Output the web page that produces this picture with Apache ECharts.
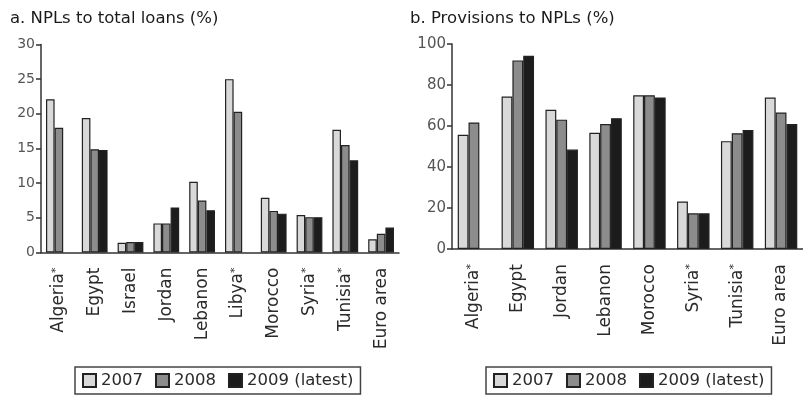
<!DOCTYPE html>
<html><head><meta charset="utf-8">
<script src="https://cdn.jsdelivr.net/npm/echarts@6/dist/echarts.min.js"></script>
<style>html,body{margin:0;padding:0;background:#fff}#c{width:803px;height:399px}</style>
</head><body><div id="c"></div>
<script>
const seriesNames = ['2007', '2008', '2009 (latest)'];
const catsA = ['Algeria*', 'Egypt', 'Israel', 'Jordan', 'Lebanon', 'Libya*', 'Morocco', 'Syria*', 'Tunisia*', 'Euro area'];
const npl2007 = [22.1, 19.4, 1.4, 4.2, 10.2, 25.0, 7.9, 5.4, 17.7, 1.9];
const npl2008 = [18.0, 14.9, 1.5, 4.2, 7.5, 20.3, 6.0, 5.1, 15.5, 2.7];
const npl2009 = [null, 14.8, 1.5, 6.5, 6.1, null, 5.6, 5.1, 13.3, 3.6];
const catsB = ['Algeria*', 'Egypt', 'Jordan', 'Lebanon', 'Morocco', 'Syria*', 'Tunisia*', 'Euro area'];
const prov2007 = [55.7, 74.4, 67.9, 56.7, 75.0, 23.2, 52.6, 73.9];
const prov2008 = [61.7, 92.0, 63.1, 61.0, 75.0, 17.4, 56.5, 66.6];
const prov2009 = [null, 94.3, 48.5, 63.8, 73.9, 17.4, 58.0, 61.0];

const colors = ['#d9d9d9', '#8c8c8c', '#1c1c1c'];
const FONT = 'DejaVu Sans';

function catLabel(v) {
  if (v.endsWith('*')) return v.slice(0, -1) + '{s|*}';
  return v;
}
function xAxis(idx, cats) {
  return {
    type: 'category', gridIndex: idx, data: cats,
    axisLine: {lineStyle: {color: '#333', width: 1.5}},
    axisTick: {length: 5, lineStyle: {color: '#333', width: 1.5}},
    axisLabel: {rotate: 90, margin: 15, fontFamily: FONT, fontSize: 17, color: '#2a2a2a',
      formatter: catLabel,
      rich: {s: {fontSize: 11, fontFamily: FONT, color: '#2a2a2a', verticalAlign: 'top'}}}
  };
}
function yAxis(idx, max, interval, fs) {
  return {
    type: 'value', gridIndex: idx, min: 0, max: max, interval: interval,
    splitLine: {show: false},
    axisLine: {show: true, lineStyle: {color: '#333', width: 1.5}},
    axisTick: {show: true, length: 5, lineStyle: {color: '#333', width: 1.5}},
    axisLabel: {fontFamily: FONT, fontSize: fs, color: '#555', margin: 6}
  };
}
function bars(name, data, idx, ci, gap) {
  return {
    type: 'bar', name: name, data: data, xAxisIndex: idx, yAxisIndex: idx,
    barGap: '0%', barCategoryGap: gap,
    itemStyle: {color: colors[ci], borderColor: '#222', borderWidth: 1.2},
    emphasis: {disabled: true}
  };
}
function legend(left) {
  return {
    data: seriesNames.map(n => ({name: n, icon: 'rect'})), left: left, top: 367, orient: 'horizontal',
    itemWidth: 13, itemHeight: 13, itemGap: 12,
    borderColor: '#444', borderWidth: 1.5, padding: [5, 7],
    textStyle: {fontFamily: FONT, fontSize: 16.5, color: '#2a2a2a'},
    selectedMode: false
  };
}

const chart = echarts.init(document.getElementById('c'));
chart.setOption({
  animation: false,
  title: [
    {text: 'a. NPLs to total loans (%)', left: 5, top: 5,
      textStyle: {fontFamily: FONT, fontSize: 16.5, fontWeight: 'normal', color: '#1a1a1a'}},
    {text: 'b. Provisions to NPLs (%)', left: 405, top: 5,
      textStyle: {fontFamily: FONT, fontSize: 16.5, fontWeight: 'normal', color: '#1a1a1a'}}
  ],
  legend: [legend(75), legend(486)],
  grid: [
    {left: 41, width: 358, top: 44.5, height: 208},
    {left: 452, width: 352, top: 44, height: 205}
  ],
  xAxis: [xAxis(0, catsA), xAxis(1, catsB)],
  yAxis: [yAxis(0, 30, 5, 14), yAxis(1, 100, 20, 15)],
  series: [
    bars(seriesNames[0], npl2007, 0, 0, '28%'),
    bars(seriesNames[1], npl2008, 0, 1, '28%'),
    bars(seriesNames[2], npl2009, 0, 2, '28%'),
    bars(seriesNames[0], prov2007, 1, 0, '26%'),
    bars(seriesNames[1], prov2008, 1, 1, '26%'),
    bars(seriesNames[2], prov2009, 1, 2, '26%')
  ]
});
</script></body></html>
